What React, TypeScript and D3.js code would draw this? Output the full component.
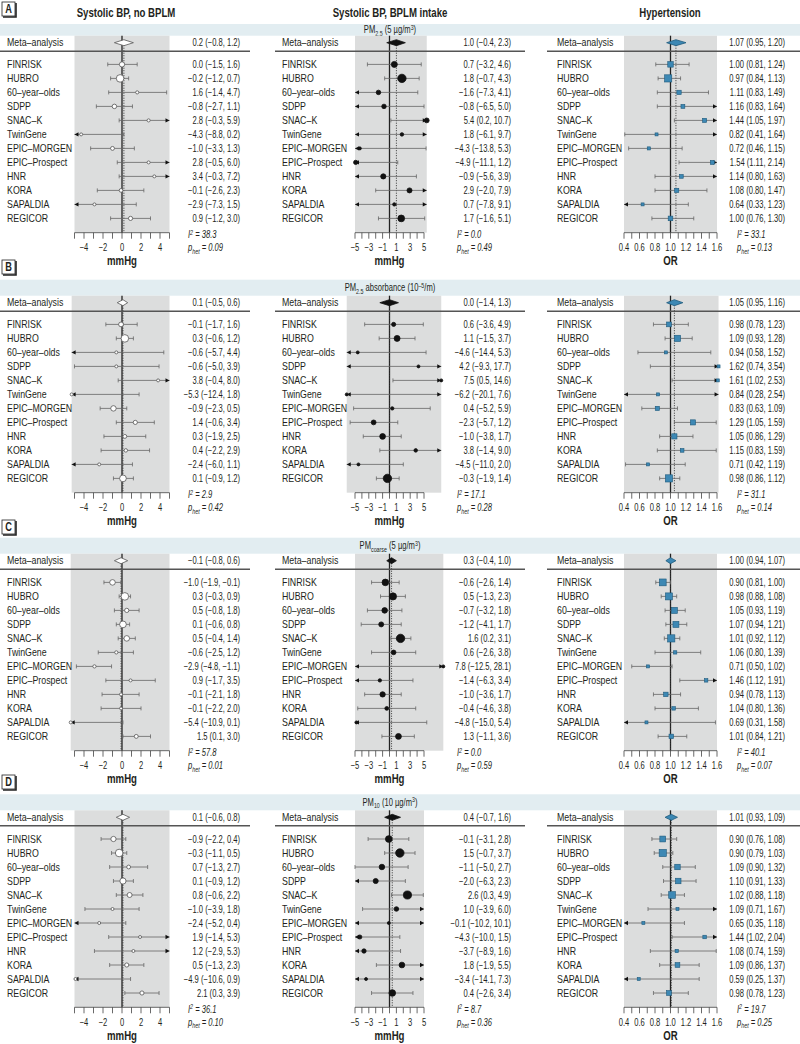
import React from "react";
import * as d3 from "d3";

// ---------- DATA ----------
const STUDIES = ["FINRISK", "HUBRO", "60–year–olds", "SDPP", "SNAC–K", "TwinGene", "EPIC–MORGEN", "EPIC–Prospect", "HNR", "KORA", "SAPALDIA", "REGICOR"];
const META_LABEL = "Meta–analysis";
const COLUMN_TITLES = ["Systolic BP, no BPLM", "Systolic BP, BPLM intake", "Hypertension"];
const PANEL_LETTERS = ["A", "B", "C", "D"];
const UNIT_LABELS = ["mmHg", "mmHg", "OR"];
const TICK_LABELS_LEFT = [-4, -2, 0, 2, 4];
const TICK_LABELS_MID = [-5, -3, -1, 1, 3, 5];
const TICK_LABELS_OR = [0.4, 0.6, 0.8, 1.0, 1.2, 1.4, 1.6];

// band titles: [text, shift] shift: 0 normal, -1 subscript, 1 superscript
const BAND_A: [string, number][] = [["PM", 0], ["2.5", -1], [" (5 µg/m", 0], ["3", 1], [")", 0]];
const BAND_B: [string, number][] = [["PM", 0], ["2.5", -1], [" absorbance (10", 0], ["–5", 1], ["/m)", 0]];
const BAND_C: [string, number][] = [["PM", 0], ["coarse", -1], [" (5 µg/m", 0], ["3", 1], [")", 0]];
const BAND_D: [string, number][] = [["PM", 0], ["10", -1], [" (10 µg/m", 0], ["3", 1], [")", 0]];

// each row: [estimate, lower, upper]
// Panel A: PM2.5
const A_NOBPLM_META = [0.2, -0.8, 1.2];
const A_NOBPLM = [[0.0, -1.5, 1.6], [-0.2, -1.2, 0.7], [1.6, -1.4, 4.7], [-0.8, -2.7, 1.1], [2.8, -0.3, 5.9], [-4.3, -8.8, 0.2], [-1.0, -3.3, 1.3], [2.8, -0.5, 6.0], [3.4, -0.3, 7.2], [-0.1, -2.6, 2.3], [-2.9, -7.3, 1.5], [0.9, -1.2, 3.0]];
const A_NOBPLM_HET = [38.3, 0.09];
const A_BPLM_META = [1.0, -0.4, 2.3];
const A_BPLM = [[0.7, -3.2, 4.6], [1.8, -0.7, 4.3], [-1.6, -7.3, 4.1], [-0.8, -6.5, 5.0], [5.4, 0.2, 10.7], [1.8, -6.1, 9.7], [-4.3, -13.8, 5.3], [-4.9, -11.1, 1.2], [-0.9, -5.6, 3.9], [2.9, -2.0, 7.9], [0.7, -7.8, 9.1], [1.7, -1.6, 5.1]];
const A_BPLM_HET = [0.0, 0.49];
const A_HT_META = [1.07, 0.95, 1.2];
const A_HT = [[1.0, 0.81, 1.24], [0.97, 0.84, 1.13], [1.11, 0.83, 1.49], [1.16, 0.83, 1.64], [1.44, 1.05, 1.97], [0.82, 0.41, 1.64], [0.72, 0.46, 1.15], [1.54, 1.11, 2.14], [1.14, 0.8, 1.63], [1.08, 0.8, 1.47], [0.64, 0.33, 1.23], [1.0, 0.76, 1.3]];
const A_HT_HET = [33.1, 0.13];

// Panel B: PM2.5 absorbance
const B_NOBPLM_META = [0.1, -0.5, 0.6];
const B_NOBPLM = [[-0.1, -1.7, 1.6], [0.3, -0.6, 1.2], [-0.6, -5.7, 4.4], [-0.6, -5.0, 3.9], [3.8, -0.4, 8.0], [-5.3, -12.4, 1.8], [-0.9, -2.3, 0.5], [1.4, -0.6, 3.4], [0.3, -1.9, 2.5], [0.4, -2.2, 2.9], [-2.4, -6.0, 1.1], [0.1, -0.9, 1.2]];
const B_NOBPLM_HET = [2.9, 0.42];
const B_BPLM_META = [0.0, -1.4, 1.3];
const B_BPLM = [[0.6, -3.6, 4.9], [1.1, -1.5, 3.7], [-4.6, -14.4, 5.3], [4.2, -9.3, 17.7], [7.5, 0.5, 14.6], [-6.2, -20.1, 7.6], [0.4, -5.2, 5.9], [-2.3, -5.7, 1.2], [-1.0, -3.8, 1.7], [3.8, -1.4, 9.0], [-4.5, -11.0, 2.0], [-0.3, -1.9, 1.4]];
const B_BPLM_HET = [17.1, 0.28];
const B_HT_META = [1.05, 0.95, 1.16];
const B_HT = [[0.98, 0.78, 1.23], [1.09, 0.93, 1.28], [0.94, 0.58, 1.52], [1.62, 0.74, 3.54], [1.61, 1.02, 2.53], [0.84, 0.28, 2.54], [0.83, 0.63, 1.09], [1.29, 1.05, 1.59], [1.05, 0.86, 1.29], [1.15, 0.83, 1.59], [0.71, 0.42, 1.19], [0.98, 0.86, 1.12]];
const B_HT_HET = [31.1, 0.14];

// Panel C: PMcoarse
const C_NOBPLM_META = [-0.1, -0.8, 0.6];
const C_NOBPLM = [[-1.0, -1.9, -0.1], [0.3, -0.3, 0.9], [0.5, -0.8, 1.8], [0.1, -0.6, 0.8], [0.5, -0.4, 1.4], [-0.6, -2.5, 1.2], [-2.9, -4.8, -1.1], [0.9, -1.7, 3.5], [-0.1, -2.1, 1.8], [-0.1, -2.2, 2.0], [-5.4, -10.9, 0.1], [1.5, 0.1, 3.0]];
const C_NOBPLM_HET = [57.8, 0.01];
const C_BPLM_META = [0.3, -0.4, 1.0];
const C_BPLM = [[-0.6, -2.6, 1.4], [0.5, -1.3, 2.3], [-0.7, -3.2, 1.8], [-1.2, -4.1, 1.7], [1.6, 0.2, 3.1], [0.6, -2.6, 3.8], [7.8, -12.5, 28.1], [-1.4, -6.3, 3.4], [-1.0, -3.6, 1.7], [-0.4, -4.6, 3.8], [-4.8, -15.0, 5.4], [1.3, -1.1, 3.6]];
const C_BPLM_HET = [0.0, 0.59];
const C_HT_META = [1.0, 0.94, 1.07];
const C_HT = [[0.9, 0.81, 1.0], [0.98, 0.88, 1.08], [1.05, 0.93, 1.19], [1.07, 0.94, 1.21], [1.01, 0.92, 1.12], [1.06, 0.8, 1.39], [0.71, 0.5, 1.02], [1.46, 1.12, 1.91], [0.94, 0.78, 1.13], [1.04, 0.8, 1.36], [0.69, 0.31, 1.58], [1.01, 0.84, 1.21]];
const C_HT_HET = [40.1, 0.07];

// Panel D: PM10
const D_NOBPLM_META = [0.1, -0.6, 0.8];
const D_NOBPLM = [[-0.9, -2.2, 0.4], [-0.3, -1.1, 0.5], [0.7, -1.3, 2.7], [0.1, -0.9, 1.2], [0.8, -0.6, 2.2], [-1.0, -3.9, 1.8], [-2.4, -5.2, 0.4], [1.9, -1.4, 5.3], [1.2, -2.9, 5.3], [0.5, -1.3, 2.3], [-4.9, -10.6, 0.9], [2.1, 0.3, 3.9]];
const D_NOBPLM_HET = [36.1, 0.1];
const D_BPLM_META = [0.4, -0.7, 1.6];
const D_BPLM = [[-0.1, -3.1, 2.8], [1.5, -0.7, 3.7], [-1.1, -5.0, 2.7], [-2.0, -6.3, 2.3], [2.6, 0.3, 4.9], [1.0, -3.9, 6.0], [-0.1, -10.2, 10.1], [-4.3, -10.0, 1.5], [-3.7, -8.9, 1.6], [1.8, -1.9, 5.5], [-3.4, -14.1, 7.3], [0.4, -2.6, 3.4]];
const D_BPLM_HET = [8.7, 0.36];
const D_HT_META = [1.01, 0.93, 1.09];
const D_HT = [[0.9, 0.76, 1.08], [0.9, 0.79, 1.03], [1.09, 0.9, 1.32], [1.1, 0.91, 1.33], [1.02, 0.88, 1.18], [1.09, 0.71, 1.67], [0.65, 0.35, 1.18], [1.44, 1.02, 2.04], [1.08, 0.74, 1.59], [1.09, 0.86, 1.37], [0.59, 0.25, 1.37], [0.98, 0.78, 1.23]];
const D_HT_HET = [19.7, 0.25];

const PANELS = [
  { band: BAND_A, cols: [{ meta: A_NOBPLM_META, rows: A_NOBPLM, het: A_NOBPLM_HET }, { meta: A_BPLM_META, rows: A_BPLM, het: A_BPLM_HET }, { meta: A_HT_META, rows: A_HT, het: A_HT_HET }] },
  { band: BAND_B, cols: [{ meta: B_NOBPLM_META, rows: B_NOBPLM, het: B_NOBPLM_HET }, { meta: B_BPLM_META, rows: B_BPLM, het: B_BPLM_HET }, { meta: B_HT_META, rows: B_HT, het: B_HT_HET }] },
  { band: BAND_C, cols: [{ meta: C_NOBPLM_META, rows: C_NOBPLM, het: C_NOBPLM_HET }, { meta: C_BPLM_META, rows: C_BPLM, het: C_BPLM_HET }, { meta: C_HT_META, rows: C_HT, het: C_HT_HET }] },
  { band: BAND_D, cols: [{ meta: D_NOBPLM_META, rows: D_NOBPLM, het: D_NOBPLM_HET }, { meta: D_BPLM_META, rows: D_BPLM, het: D_BPLM_HET }, { meta: D_HT_META, rows: D_HT, het: D_HT_HET }] },
];

// ---------- LAYOUT ----------
const W = 800, H = 1044;
const FONT = "'Liberation Sans', Arial, sans-serif";
const SX = 0.84; // horizontal condensing of label text
const SXV = 0.76; // condensing of numeric text
const SXB = 0.77; // condensing of bold titles
const TEXT = "#231f20";
const GRAY = "#dcdddd";
const BANDC = "#e2edf1";
const BLUE = "#3d88b4";
const BLUE_DARK = "#1e5a7c";
const META_Y = [42.7, 302.7, 560.7, 817.3];
const BOX_Y = [2, 260, 520, 775];
const ROW0 = 21.7, ROW_STEP = 14;
const FS = 10.5;
const FSV = 10;

const COLS = [
  { labelX: 7, range: [74.5, 169.5], axis: [-5, 5], valX: 240, hetX: 188, sep: [0, 250], step: 1, tickLabels: TICK_LABELS_LEFT, ref: 0, kind: "open", dec: 1, log: false, rMax: 3.8, titleX: 126, tickFmt: d3.format("") },
  { labelX: 282, range: [355, 424], axis: [-5, 5], valX: 511, hetX: 457, sep: [275, 525], step: 1, tickLabels: TICK_LABELS_MID, ref: 0, kind: "filled", dec: 1, log: false, rMax: 4.2, titleX: 390, tickFmt: d3.format("") },
  { labelX: 557, range: [624, 717], axis: [0.4, 1.6], valX: 785, hetX: 737, sep: [547, 800], step: 0.1, tickLabels: TICK_LABELS_OR, ref: 1, kind: "square", dec: 2, log: true, rMax: 3.6, titleX: 670, tickFmt: d3.format(".1f") },
];

function markerSizes(rows: number[][], log: boolean, rMax: number) {
  const w = rows.map(([, l, h]) => (log ? Math.log(h / l) : h - l));
  const mn = d3.min(w) as number;
  return w.map((v) => Math.max(1.5, Math.min(rMax, rMax * Math.pow(mn / v, 0.75))));
}

function T({ x, y, anchor = "start", size = FS, sx = SX, bold = false, italic = false, children }: any) {
  return (
    <text
      transform={`translate(${x},${y}) scale(${sx},1)`}
      dy="0.35em"
      textAnchor={anchor}
      fontSize={size}
      fontWeight={bold ? "bold" : "normal"}
      fontStyle={italic ? "italic" : "normal"}
      fill={TEXT}
      fontFamily={FONT}
    >
      {children}
    </text>
  );
}

function Rich({ parts, x, y, anchor, size, italic, sx = SXV }: any) {
  let shift = 0;
  return (
    <text transform={`translate(${x},${y}) scale(${sx},1)`} textAnchor={anchor} fontSize={size} fontStyle={italic ? "italic" : "normal"} fill={TEXT} fontFamily={FONT}>
      {parts.map(([t, s]: [string, number], i: number) => {
        const target = s === -1 ? 2.5 : s === 1 ? -3.5 : 0;
        const dy = target - shift;
        shift = target;
        return (
          <tspan key={i} dy={dy} fontSize={s === 0 ? size : size * 0.7}>
            {t}
          </tspan>
        );
      })}
    </text>
  );
}

function Column({ p, c }: { p: number; c: number }) {
  const col = COLS[c];
  const data = PANELS[p].cols[c];
  const m = META_Y[p];
  const x = d3.scaleLinear().domain(col.axis).range(col.range);
  const ests = data.rows.map((r) => r[0]);
  const gLo = Math.min(col.axis[0], d3.min(ests) as number);
  const gHi = Math.max(col.axis[1], d3.max(ests) as number);
  const gTop = m - 7, gBot = m + 190;
  const fmt = d3.format(`.${col.dec}f`);
  const sizes = markerSizes(data.rows, col.log, col.rMax);
  const ticks = d3.range(0, Math.round((col.axis[1] - col.axis[0]) / col.step) + 1).map((i) => col.axis[0] + i * col.step);
  const [me, ml, mh] = data.meta;
  const fill = col.kind === "open" ? "#fff" : col.kind === "filled" ? "#111" : BLUE;
  const stroke = col.kind === "open" ? "#555" : col.kind === "filled" ? "#111" : BLUE_DARK;
  return (
    <g>
      <rect x={x(gLo)} y={gTop} width={x(gHi) - x(gLo)} height={gBot - gTop} fill={GRAY} />
      <line x1={x(col.ref)} x2={x(col.ref)} y1={gTop} y2={gBot} stroke="#222" strokeWidth={1.3} />
      <line x1={x(me)} x2={x(me)} y1={m} y2={gBot} stroke="#333" strokeWidth={1} strokeDasharray="1,1.5" />
      <line x1={col.sep[0]} x2={col.sep[1]} y1={m + 8.5} y2={m + 8.5} stroke="#555" strokeWidth={1.5} />
      {/* axis */}
      <line x1={x(col.axis[0])} x2={x(col.axis[1])} y1={gBot} y2={gBot} stroke="#444" strokeWidth={0.8} />
      {ticks.map((t, i) => (
        <line key={i} x1={x(t)} x2={x(t)} y1={gBot} y2={gBot + 6} stroke="#444" strokeWidth={0.8} />
      ))}
      {col.tickLabels.map((t, i) => (
        <T key={i} x={x(t)} y={m + 205} anchor="middle" size={FSV} sx={SXV}>
          {col.tickFmt(t)}
        </T>
      ))}
      <T x={x(col.ref)} y={m + 218} anchor="middle" size={12.5} sx={SXB} bold>
        {UNIT_LABELS[c]}
      </T>
      {/* rows */}
      {data.rows.map(([e, l, h], i) => {
        const y = m + ROW0 + i * ROW_STEP;
        const arrowL = l < gLo, arrowR = h > gHi;
        const x1 = x(Math.max(l, gLo)), x2 = x(Math.min(h, gHi));
        const r = sizes[i];
        return (
          <g key={i}>
            <line x1={x1} x2={x2} y1={y} y2={y} stroke="#666" strokeWidth={0.8} />
            {arrowL ? <path d={`M${x1},${y}l4,-2.2v4.4z`} fill="#111" /> : <line x1={x1} x2={x1} y1={y - 2} y2={y + 2} stroke="#666" strokeWidth={0.8} />}
            {arrowR ? <path d={`M${x2},${y}l-4,-2.2v4.4z`} fill="#111" /> : <line x1={x2} x2={x2} y1={y - 2} y2={y + 2} stroke="#666" strokeWidth={0.8} />}
            {col.kind === "square" ? (
              <rect x={x(e) - r} y={y - r} width={2 * r} height={2 * r} fill={fill} stroke={stroke} strokeWidth={0.6} />
            ) : (
              <circle cx={x(e)} cy={y} r={r} fill={fill} stroke={stroke} strokeWidth={0.8} />
            )}
            <T x={col.labelX} y={y}>{STUDIES[i]}</T>
            <T x={col.valX} y={y} anchor="end" size={FSV} sx={SXV}>{`${fmt(e)} (${fmt(l)}, ${fmt(h)})`}</T>
          </g>
        );
      })}
      {/* meta */}
      <path d={`M${x(ml)},${m}L${x(me)},${m - 3}L${x(mh)},${m}L${x(me)},${m + 3}Z`} fill={fill} stroke={stroke} strokeWidth={0.8} />
      <T x={col.labelX} y={m}>{META_LABEL}</T>
      <T x={col.valX} y={m} anchor="end" size={FSV} sx={SXV}>{`${fmt(me)} (${fmt(ml)}, ${fmt(mh)})`}</T>
      {/* heterogeneity */}
      <Rich parts={[["I", 0], ["2", 1], [` = ${d3.format(".1f")(data.het[0])}`, 0]]} x={col.hetX} y={m + 195.5} anchor="start" size={FSV} italic />
      <Rich parts={[["p", 0], ["het", -1], [` = ${d3.format(".2f")(data.het[1])}`, 0]]} x={col.hetX} y={m + 208.5} anchor="start" size={FSV} italic />
    </g>
  );
}

function Panel({ p }: { p: number }) {
  const m = META_Y[p];
  const bandTop = p === 0 ? 24 : m - 23;
  const by = BOX_Y[p];
  return (
    <g>
      <rect x={0} y={bandTop} width={W} height={m - 7 - bandTop} fill={BANDC} />
      <Rich parts={PANELS[p].band} x={390} y={(bandTop + m - 7) / 2 + 3.5} anchor="middle" size={FSV} />
      {[0, 1, 2].map((c) => (
        <Column key={c} p={p} c={c} />
      ))}
      <rect x={2} y={by} width={13} height={14} fill="#fff" stroke="#222" strokeWidth={0.8} />
      <path d={`M${16},${by + 1}V${by + 15}H${3}`} fill="none" stroke="#222" strokeWidth={1.6} />
      <T x={8.5} y={by + 7} anchor="middle" size={12} sx={SXB} bold>
        {PANEL_LETTERS[p]}
      </T>
    </g>
  );
}

export default function App() {
  return (
    <svg width={W} height={H} style={{ position: "absolute", left: 0, top: 0, background: "#fff" }}>
      <rect width={W} height={H} fill="#fff" />
      {COLUMN_TITLES.map((t, c) => (
        <T key={c} x={COLS[c].titleX} y={13} anchor="middle" size={12.5} sx={SXB} bold>
          {t}
        </T>
      ))}
      {PANELS.map((_, p) => (
        <Panel key={p} p={p} />
      ))}
    </svg>
  );
}
